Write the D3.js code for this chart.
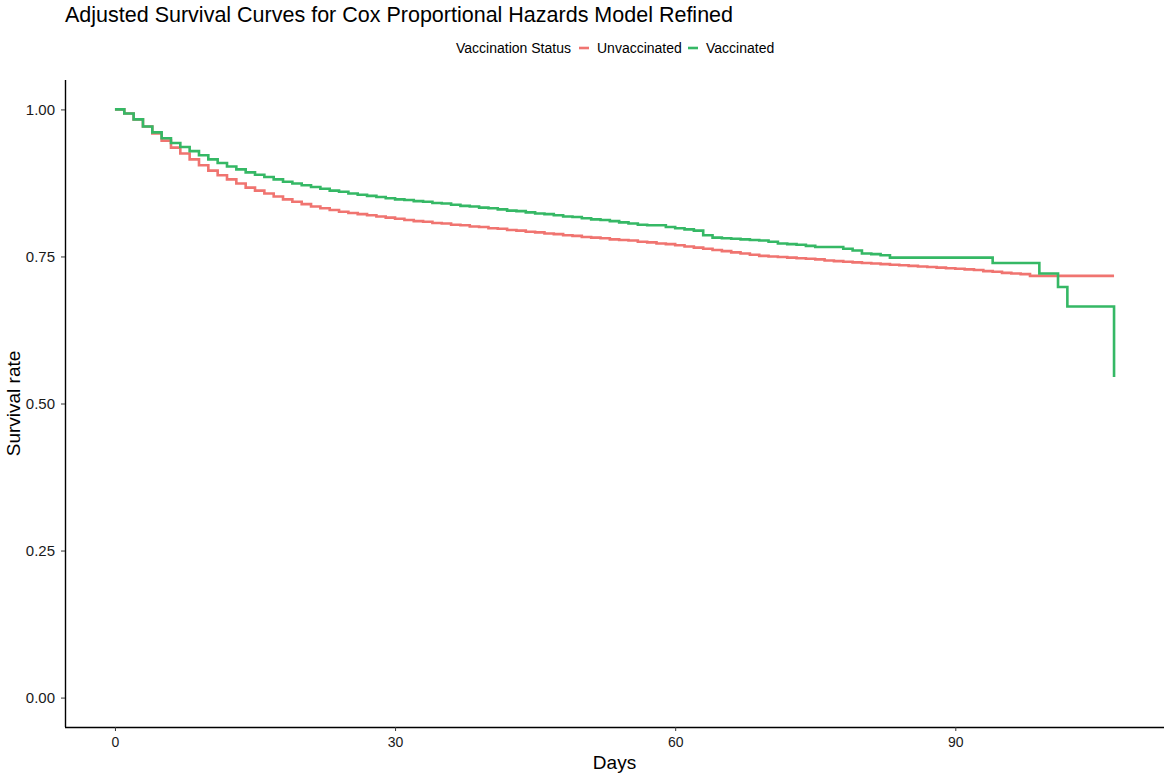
<!DOCTYPE html>
<html>
<head>
<meta charset="utf-8">
<script src="https://cdn.jsdelivr.net/npm/d3@7"></script>
<style>
  body { margin: 0; background: #fff; }
  text { font-family: "Liberation Sans", Arial, sans-serif; }
</style>
</head>
<body>
<svg id="chart" width="1169" height="777"></svg>
<script>
// survival estimates, read per day off the picture
const groups = ["Unvaccinated", "Vaccinated"];

const unvaxDays = d3.range(0, 99).concat([107]);
const unvaxSurv = [
  1.000, 0.993, 0.983, 0.971, 0.959, 0.947, 0.935, 0.925, 0.915, 0.905,
  0.896, 0.888, 0.881, 0.874, 0.867, 0.862, 0.857, 0.852, 0.847, 0.843,
  0.839, 0.835, 0.832, 0.829, 0.826, 0.824, 0.822, 0.820, 0.818, 0.816,
  0.814, 0.812, 0.810, 0.809, 0.807, 0.806, 0.804, 0.803, 0.801, 0.800,
  0.798, 0.797, 0.795, 0.794, 0.792, 0.791, 0.789, 0.788, 0.786, 0.785,
  0.783, 0.782, 0.781, 0.779, 0.778, 0.777, 0.775, 0.774, 0.772, 0.771,
  0.769, 0.767, 0.765, 0.763, 0.761, 0.759, 0.757, 0.755, 0.753, 0.751,
  0.750, 0.749, 0.748, 0.747, 0.746, 0.745, 0.743, 0.742, 0.741, 0.740,
  0.739, 0.738, 0.737, 0.736, 0.735, 0.734, 0.733, 0.732, 0.731, 0.730,
  0.729, 0.728, 0.727, 0.725, 0.724, 0.722, 0.721, 0.720, 0.717, 0.717
];

const vaxDays = d3.range(0, 84).concat([94, 99, 101, 102, 107]);
const vaxSurv = [
  1.000, 0.993, 0.983, 0.971, 0.961, 0.951, 0.943, 0.936, 0.929, 0.922,
  0.915, 0.909, 0.903, 0.898, 0.893, 0.889, 0.885, 0.881, 0.877, 0.874,
  0.871, 0.868, 0.865, 0.862, 0.860, 0.857, 0.855, 0.853, 0.851, 0.849,
  0.847, 0.846, 0.844, 0.843, 0.841, 0.840, 0.838, 0.836, 0.835, 0.833,
  0.832, 0.830, 0.828, 0.827, 0.825, 0.823, 0.822, 0.820, 0.818, 0.817,
  0.815, 0.813, 0.812, 0.810, 0.808, 0.806, 0.804, 0.803, 0.803, 0.800,
  0.798, 0.796, 0.794, 0.786, 0.782, 0.781, 0.780, 0.779, 0.778, 0.777,
  0.775, 0.772, 0.771, 0.770, 0.768, 0.766, 0.766, 0.766, 0.763, 0.760,
  0.755, 0.754, 0.752, 0.748,
  0.739, 0.721, 0.698, 0.665, 0.545
];

const xTicks = [0, 30, 60, 90];
const yTicks = [0, 0.25, 0.5, 0.75, 1];

const series = [
  {name: groups[0], pts: unvaxDays.map((d, i) => [d, unvaxSurv[i]])},
  {name: groups[1], pts: vaxDays.map((d, i) => [d, vaxSurv[i]])}
];

const svg = d3.select("#chart");
const plotLeft = 65, plotRight = 1164, plotTop = 80, plotBottom = 727;

const color = d3.scaleOrdinal()
    .domain(groups)
    .range(["#F07470", "#35B865"]);

// ggplot style 5% padding on both axes
const x = d3.scaleLinear()
    .domain([0 - 107 * 0.05, 107 * 1.05])
    .range([plotLeft, plotRight]);
const y = d3.scaleLinear()
    .domain([-0.05, 1.05])
    .range([plotBottom, plotTop]);

const line = d3.line()
    .x(d => x(d[0]))
    .y(d => y(d[1]))
    .curve(d3.curveStepAfter);

svg.selectAll(".curve")
    .data(series)
    .enter().append("path")
    .attr("class", "curve")
    .attr("d", d => line(d.pts))
    .style("fill", "none")
    .style("stroke", d => color(d.name))
    .style("stroke-width", 2.6);

// axes
const xAxis = svg.append("g")
    .attr("transform", "translate(0," + plotBottom + ")")
    .call(d3.axisBottom(x).tickValues(xTicks).tickSize(4).tickPadding(6).tickFormat(d3.format("d")));
const yAxis = svg.append("g")
    .attr("transform", "translate(" + plotLeft + ",0)")
    .call(d3.axisLeft(y).tickValues(yTicks).tickSize(4).tickPadding(6).tickFormat(d3.format(".2f")));

[xAxis, yAxis].forEach(g => {
    g.select(".domain").attr("stroke", "#000").attr("stroke-width", 1.4);
    g.selectAll(".tick line").attr("stroke", "#333");
    g.selectAll(".tick text").style("fill", "#1a1a1a")
        .style("font-family", "'Liberation Sans', Arial, sans-serif");
});
xAxis.selectAll(".tick text").style("font-size", "14px");
yAxis.selectAll(".tick text").style("font-size", "15px");
// domain paths without outer ticks, extending to the panel corners
xAxis.select(".domain").attr("d", "M" + plotLeft + ",0.5H" + plotRight);
yAxis.select(".domain").attr("d", "M0.5," + plotTop + "V" + plotBottom);

// titles
svg.append("text")
    .attr("x", 65)
    .attr("y", 22)
    .style("font-size", "21.5px")
    .style("fill", "#000")
    .text("Adjusted Survival Curves for Cox Proportional Hazards Model Refined");

svg.append("text")
    .attr("x", (plotLeft + plotRight) / 2)
    .attr("y", 769)
    .attr("text-anchor", "middle")
    .style("font-size", "19px")
    .text("Days");

svg.append("text")
    .attr("transform", "translate(20," + ((plotTop + plotBottom) / 2) + ") rotate(-90)")
    .attr("text-anchor", "middle")
    .style("font-size", "19px")
    .text("Survival rate");

// legend
const legend = svg.append("g").attr("transform", "translate(456,48)");
legend.append("text")
    .attr("x", 0)
    .attr("y", 5)
    .style("font-size", "14px")
    .text("Vaccination Status");

const keyX = [123, 232];
const keys = legend.selectAll(".key")
    .data(groups)
    .enter().append("g")
    .attr("class", "key")
    .attr("transform", (d, i) => "translate(" + keyX[i] + ",0)");
keys.append("line")
    .attr("x1", 0).attr("x2", 10)
    .attr("y1", 0).attr("y2", 0)
    .style("stroke", d => color(d))
    .style("stroke-width", 2.6);
keys.append("text")
    .attr("x", 18)
    .attr("y", 5)
    .style("font-size", "14px")
    .text(d => d);
</script>
</body>
</html>
